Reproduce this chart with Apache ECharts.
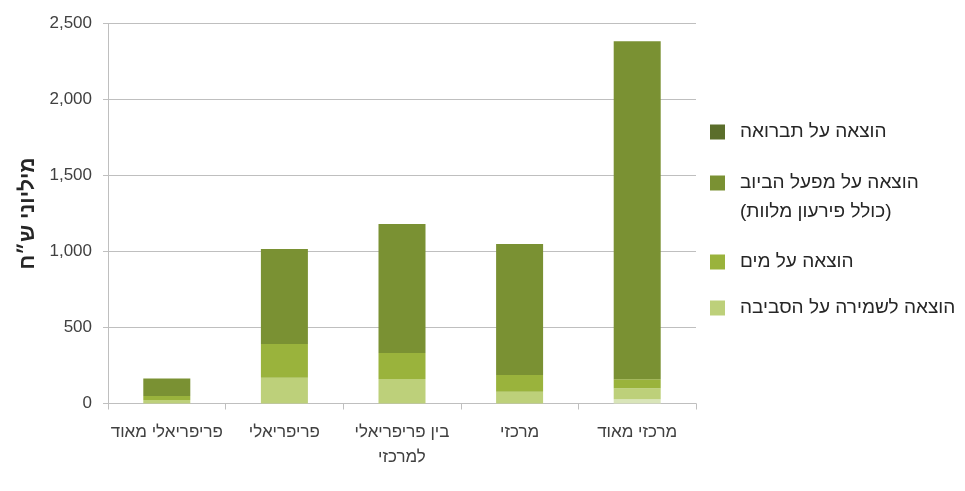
<!DOCTYPE html>
<html>
<head>
<meta charset="utf-8">
<script src="https://cdn.jsdelivr.net/npm/echarts@6/dist/echarts.min.js"></script>
<style>
html,body{margin:0;padding:0;background:#fff;}
#chart{width:965px;height:491px;}
</style>
</head>
<body>
<div id="chart"></div>
<script>
const categories = ['פריפריאלי מאוד', 'פריפריאלי', 'בין פריפריאלי\nלמרכזי', 'מרכזי', 'מרכזי מאוד'];
const seriesNames = ['הוצאה על תברואה', 'הוצאה על מפעל הביוב\n(כולל פירעון מלוות)', 'הוצאה על מים', 'הוצאה לשמירה על הסביבה'];
const paleValues = [0, 0, 0, 0, 28];
const environmentValues = [23, 170, 161, 78, 72];
const waterValues = [26, 222, 171, 110, 59];
const sewageValues = [116, 625, 849, 862, 2224];
const sanitationValues = [0, 0, 0, 0, 0];
const yMin = 0, yMax = 2500, yInterval = 500;
const yAxisTitle = 'מיליוני ש״ח';

const colors = {
  pale: '#d9e5b9',
  environment: '#bdd07a',
  water: '#9ab33c',
  sewage: '#7a9133',
  sanitation: '#5b6e2b'
};
const hebFont = '"Liberation Sans Narrow", "Liberation Sans", "DejaVu Sans Condensed", sans-serif';
const numFont = '"Liberation Sans", Arial, sans-serif';

function bar(name, data, color) {
  return {
    name: name, type: 'bar', stack: 'total', data: data,
    barWidth: 47,
    itemStyle: { color: color },
    emphasis: { disabled: true }
  };
}

function legendItem(name, top) {
  return {
    data: [name], left: 710, top: top, orient: 'vertical', padding: 0,
    itemWidth: 15, itemHeight: 15, icon: 'rect',
    selectedMode: false,
    formatter: n => n.split('\n')[0],
    textStyle: { fontFamily: hebFont, fontSize: 19, color: '#262626', padding: [0, 0, 0, 10], lineHeight: 22 }
  };
}

const chart = echarts.init(document.getElementById('chart'), null, { renderer: 'canvas' });
chart.setOption({
  animation: false,
  grid: { left: 108, right: 269, top: 23.5, bottom: 87.5, containLabel: false },
  legend: [
    legendItem(seriesNames[0], 121),
    legendItem(seriesNames[1], 172),
    legendItem(seriesNames[2], 251),
    legendItem(seriesNames[3], 297)
  ],
  graphic: [{
    type: 'text', left: 740, top: 202,
    style: { text: seriesNames[1].split('\n')[1], font: '19px ' + hebFont, fill: '#262626' }
  }],
  xAxis: {
    type: 'category', data: categories,
    axisLine: { lineStyle: { color: '#bfbfbf', width: 1 } },
    axisTick: { show: true, length: 6, lineStyle: { color: '#bfbfbf' } },
    axisLabel: { fontFamily: hebFont, fontSize: 17, color: '#404040', lineHeight: 25, margin: 16, interval: 0 }
  },
  yAxis: {
    type: 'value', min: yMin, max: yMax, interval: yInterval,
    name: yAxisTitle, nameLocation: 'middle', nameGap: 69, nameRotate: 90,
    nameTextStyle: { fontFamily: hebFont, fontSize: 21, fontWeight: 'bold', color: '#262626' },
    axisLine: { show: true, lineStyle: { color: '#bfbfbf', width: 1 } },
    axisTick: { show: true, length: 5, lineStyle: { color: '#bfbfbf' } },
    axisLabel: {
      fontFamily: numFont, fontSize: 17, color: '#404040', margin: 16,
      formatter: v => v.toLocaleString('en-US')
    },
    splitLine: { lineStyle: { color: '#bfbfbf', width: 1 } }
  },
  series: [
    bar('pale', paleValues, colors.pale),
    bar(seriesNames[3], environmentValues, colors.environment),
    bar(seriesNames[2], waterValues, colors.water),
    bar(seriesNames[1], sewageValues, colors.sewage),
    bar(seriesNames[0], sanitationValues, colors.sanitation)
  ]
});
</script>
</body>
</html>
